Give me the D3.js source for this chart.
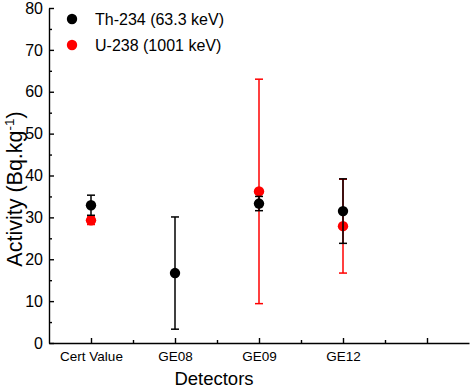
<!DOCTYPE html>
<html>
<head>
<meta charset="utf-8">
<script src="https://cdn.jsdelivr.net/npm/d3@7"></script>
<style>
  body { margin: 0; background: #fff; }
  svg text { font-family: "Liberation Sans", Arial, sans-serif; fill: #000; }
</style>
</head>
<body>
<div id="chart"></div>
<script>
// dades
const categories = ["Cert Value", "GE08", "GE09", "GE12", ""];
const thValues = [32.9, 16.7, 33.3, 31.5];
const thErrors = [2.4, 13.4, 1.7, 7.7];
const uValues = [29.3, null, 36.2, 27.9];
const uErrors = [1.0, null, 26.8, 11.2];
const yTicks = [0, 10, 20, 30, 40, 50, 60, 70, 80];
const yMinor = [5, 15, 25, 35, 45, 55, 65, 75];
const series = [
    {name: "U-238 (1001 keV)", values: uValues, errors: uErrors, color: "#ff0000"},
    {name: "Th-234 (63.3 keV)", values: thValues, errors: thErrors, color: "#000000"}
];

const width = 472, height = 388;
const svg = d3.select("#chart").append("svg")
    .attr("width", width)
    .attr("height", height);

// escales
const x = d3.scaleLinear().domain([0.5, 5.5]).range([49, 469]);
const y = d3.scaleLinear().domain([0, 80]).range([343, 8]);

// eix X
const xAxis = svg.append("g")
    .attr("transform", `translate(0, ${y(0)})`)
    .call(d3.axisBottom(x)
        .tickValues(categories.map((c, i) => i + 1))
        .tickFormat((d, i) => categories[i])
        .tickSize(-5)
        .tickSizeOuter(0)
        .tickPadding(8));
xAxis.selectAll("text").style("font-size", "13.5px");

svg.append("g")
    .attr("transform", `translate(0, ${y(0)})`)
    .call(d3.axisBottom(x)
        .tickValues([1.5, 2.5, 3.5, 4.5])
        .tickFormat("")
        .tickSize(-3)
        .tickSizeOuter(0))
    .select(".domain").remove();

// eix Y
const yAxis = svg.append("g")
    .attr("transform", `translate(${x(0.5)}, 0)`)
    .call(d3.axisLeft(y)
        .tickValues(yTicks)
        .tickSize(-5)
        .tickSizeOuter(0)
        .tickPadding(6));
yAxis.selectAll("text").style("font-size", "16px");

svg.append("g")
    .attr("transform", `translate(${x(0.5)}, 0)`)
    .call(d3.axisLeft(y)
        .tickValues(yMinor)
        .tickFormat("")
        .tickSize(-3)
        .tickSizeOuter(0))
    .select(".domain").remove();

svg.selectAll(".domain, .tick line").attr("stroke", "#000").attr("stroke-width", 1.4);

// titols
svg.append("text")
    .attr("x", 214)
    .attr("y", 385)
    .attr("text-anchor", "middle")
    .style("font-size", "18.5px")
    .text("Detectors");

const yTitle = svg.append("text")
    .attr("transform", "translate(22, 189) rotate(-90)")
    .attr("text-anchor", "middle")
    .style("font-size", "21.5px");
yTitle.append("tspan").text("Activity (Bq.kg");
yTitle.append("tspan").attr("dy", -8).style("font-size", "13.5px").text("-1");
yTitle.append("tspan").attr("dy", 8).text(")");

// barres d'error i punts
series.forEach(function(s) {
    const pts = s.values.map((v, i) => ({i: i + 1, v: v, e: s.errors[i]})).filter(d => d.v != null);
    const g = svg.append("g");
    g.selectAll(".err")
        .data(pts)
        .enter()
        .append("line")
            .attr("x1", d => x(d.i)).attr("x2", d => x(d.i))
            .attr("y1", d => y(d.v - d.e)).attr("y2", d => y(d.v + d.e))
            .attr("stroke", s.color).attr("stroke-width", 1.5);
    [-1, 1].forEach(function(k) {
        g.selectAll(".cap" + k)
            .data(pts)
            .enter()
            .append("line")
                .attr("x1", d => x(d.i) - 4).attr("x2", d => x(d.i) + 4)
                .attr("y1", d => y(d.v + k * d.e)).attr("y2", d => y(d.v + k * d.e))
                .attr("stroke", s.color).attr("stroke-width", 1.5);
    });
    g.selectAll(".pt")
        .data(pts)
        .enter()
        .append("circle")
            .attr("cx", d => x(d.i))
            .attr("cy", d => y(d.v))
            .attr("r", 5.2)
            .attr("fill", s.color);
});

// llegenda
const legend = [series[1], series[0]];
legend.forEach(function(s, i) {
    svg.append("circle")
        .attr("cx", 72).attr("cy", 19 + i * 26)
        .attr("r", 5.2).attr("fill", s.color);
    svg.append("text")
        .attr("x", 95).attr("y", 25 + i * 26)
        .style("font-size", "16px")
        .text(s.name);
});
</script>
</body>
</html>
